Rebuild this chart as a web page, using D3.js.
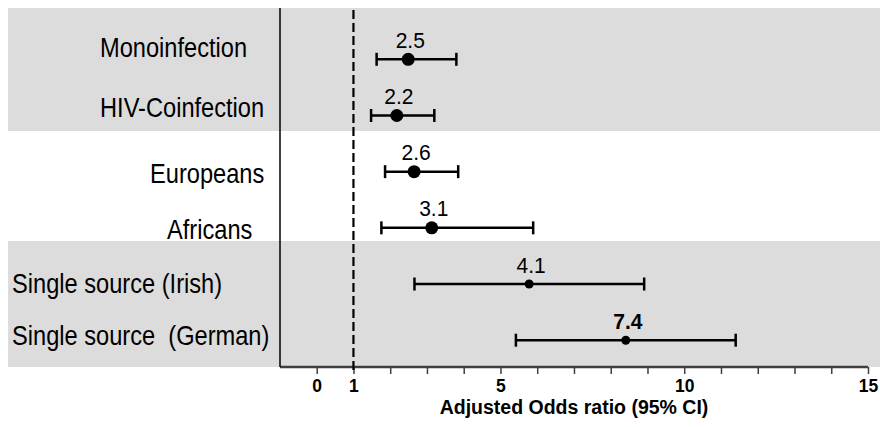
<!DOCTYPE html>
<html>
<head>
<meta charset="utf-8">
<script src="https://cdn.jsdelivr.net/npm/d3@7/dist/d3.min.js"></script>
<style>
  html, body { margin: 0; padding: 0; background: #ffffff; }
  svg { display: block; font-family: "Liberation Sans", Arial, sans-serif; }
  .cat { white-space: pre; }
</style>
</head>
<body>
<svg id="chart" width="880" height="427"></svg>
<script>
// ---- data ----
const categories = ["Monoinfection", "HIV-Coinfection", "Europeans", "Africans", "Single source (Irish)", "Single source  (German)"];
const orLabels   = ["2.5", "2.2", "2.6", "3.1", "4.1", "7.4"];
const orPoint    = [2.49, 2.18, 2.65, 3.13, 5.78, 8.41];
const ciLower    = [1.63, 1.48, 1.86, 1.76, 2.66, 5.42];
const ciUpper    = [3.80, 3.20, 3.85, 5.89, 8.91, 11.40];
const tickValues = [0,1,2,3,4,5,6,7,8,9,10,11,12,13,14,15];
const tickLabels = [0, 1, 5, 10, 15];
const referenceValue = 1;
const axisTitle = "Adjusted Odds ratio (95% CI)";

// ---- layout / style (kept apart from data) ----
const layout = {
  plotTop: 8, axisY: 367, leftX: 280, bandLeft: 8,
  xRange: [316.7, 868], yRange: [59.3, 340.2],
  bands: [[8, 131], [241, 367]],
  labelX: [100, 100, 150, 167, 12, 12],
  labelDy: [-2, 1.5, 11, 11, 9, 5],
  markerR: [6.5, 6.5, 6.5, 6.5, 4.5, 4.5],
  boldLabel: [false, false, false, false, false, true]
};

const svg = d3.select("#chart");
const x = d3.scaleLinear().domain([0, 15]).range(layout.xRange);
const y = d3.scalePoint().domain(categories).range(layout.yRange);

// background bands
svg.selectAll("rect.band").data(layout.bands).join("rect")
  .attr("class", "band")
  .attr("x", layout.bandLeft).attr("y", d => d[0])
  .attr("width", 880 - layout.bandLeft).attr("height", d => d[1] - d[0])
  .attr("fill", "#dcdcdc");

// axis ticks
const axis = d3.axisBottom(x)
  .tickValues(tickValues)
  .tickSize(7).tickSizeOuter(0).tickPadding(13)
  .tickFormat(d => tickLabels.includes(d) ? d3.format("d")(d) : "");
const ax = svg.append("g").attr("transform", `translate(0,${layout.axisY})`).call(axis);
ax.select(".domain").remove();
ax.selectAll(".tick line").attr("stroke", "#404040").attr("stroke-width", 1.5);
ax.selectAll(".tick text")
  .attr("y", 24.5).attr("dy", null)
  .attr("fill", "#000").attr("font-size", 17.5).attr("font-weight", "bold")
  .attr("font-family", "Liberation Sans, Arial, sans-serif");

// axis baseline
svg.append("line")
  .attr("x1", layout.leftX).attr("x2", x(15))
  .attr("y1", layout.axisY).attr("y2", layout.axisY)
  .attr("stroke", "#404040").attr("stroke-width", 2.5);

// left vertical line
svg.append("line")
  .attr("x1", layout.leftX).attr("x2", layout.leftX)
  .attr("y1", layout.plotTop).attr("y2", layout.axisY)
  .attr("stroke", "#000").attr("stroke-width", 1.5);

// reference dashed line
svg.append("line")
  .attr("x1", x(referenceValue)).attr("x2", x(referenceValue))
  .attr("y1", layout.plotTop + 2).attr("y2", layout.axisY + 5)
  .attr("stroke", "#000").attr("stroke-width", 2.2)
  .attr("stroke-dasharray", "9,4");

// axis title
svg.append("text")
  .attr("x", 574).attr("y", 414)
  .attr("text-anchor", "middle")
  .attr("font-size", 19.5).attr("font-weight", "bold")
  .text(axisTitle);

// rows
const rows = categories.map((c, i) => ({
  c, i, lab: orLabels[i], p: orPoint[i], lo: ciLower[i], hi: ciUpper[i]
}));

const g = svg.selectAll("g.row").data(rows).join("g").attr("class", "row");

g.append("line")
  .attr("x1", d => x(d.lo)).attr("x2", d => x(d.hi))
  .attr("y1", d => y(d.c)).attr("y2", d => y(d.c))
  .attr("stroke", "#000").attr("stroke-width", 2.5);
g.append("line")
  .attr("x1", d => x(d.lo)).attr("x2", d => x(d.lo))
  .attr("y1", d => y(d.c) - 6.5).attr("y2", d => y(d.c) + 6.5)
  .attr("stroke", "#000").attr("stroke-width", 2.5);
g.append("line")
  .attr("x1", d => x(d.hi)).attr("x2", d => x(d.hi))
  .attr("y1", d => y(d.c) - 6.5).attr("y2", d => y(d.c) + 6.5)
  .attr("stroke", "#000").attr("stroke-width", 2.5);
g.append("circle")
  .attr("cx", d => x(d.p)).attr("cy", d => y(d.c))
  .attr("r", d => layout.markerR[d.i]).attr("fill", "#000");

g.append("text")
  .attr("transform", d => `translate(${x(d.p) + 2},${y(d.c) - 11.5}) scale(1,1.05)`)
  .attr("text-anchor", "middle")
  .attr("font-size", 21)
  .attr("font-weight", d => layout.boldLabel[d.i] ? "bold" : "normal")
  .text(d => d.lab);

g.append("text")
  .attr("class", "cat")
  .attr("transform", d => `translate(${layout.labelX[d.i]},${y(d.c) + layout.labelDy[d.i]}) scale(0.985,1.12)`)
  .attr("font-size", 24)
  .text(d => d.c);
</script>
</body>
</html>
